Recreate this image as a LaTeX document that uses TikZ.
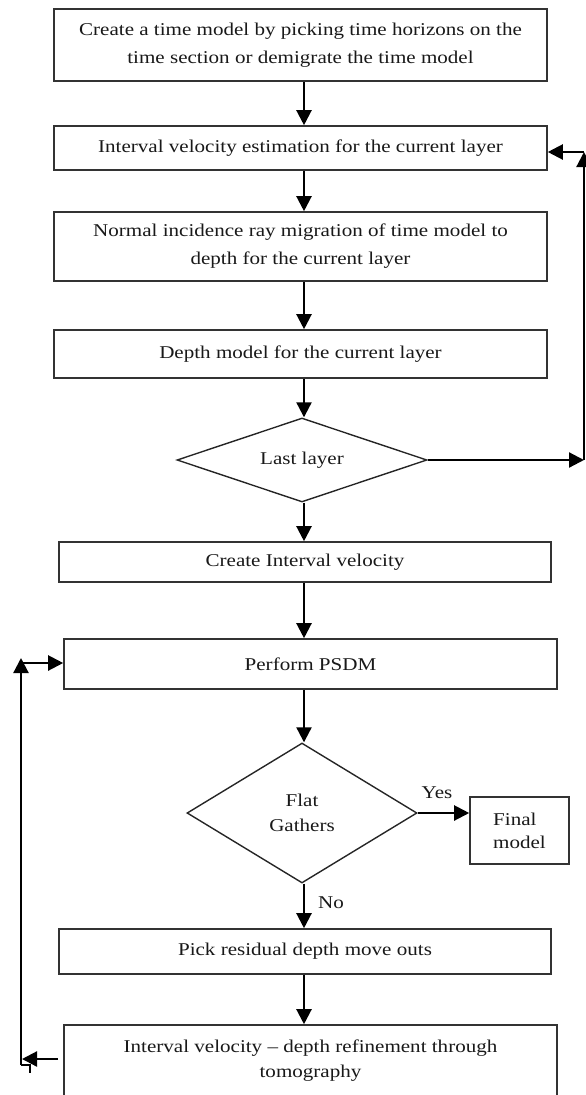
\documentclass[tikz,border=0pt]{standalone}
\usepackage{fontspec}
\setmainfont{Liberation Serif}[FakeStretch=1.17]
\usetikzlibrary{arrows.meta,shapes.geometric}
\begin{document}
\begin{tikzpicture}[x=1pt,y=-1pt,
  box/.style={draw=black!80, line width=1.6pt, fill=white, inner sep=0pt, align=center, text=black!90},
  dia/.style={diamond, draw=black!85, line width=1.4pt, inner sep=0pt, align=center, text=black!90},
  fsA/.style={font=\fontsize{18}{28}\selectfont},
  fsB/.style={font=\fontsize{18}{25}\selectfont},
  fsC/.style={font=\fontsize{18}{23}\selectfont},
  arr/.style={line width=2.2pt, draw=black, -{Triangle[length=15pt,width=15pt]}},
  lbl/.style={inner sep=0pt, text=black!90, font=\fontsize{18}{20}\selectfont}]
\useasboundingbox (0,0) rectangle (586,1095);
\clip (0,0) rectangle (586,1095);

\coordinate (ax) at (304,0);
\coordinate (rx) at (584,0);

\node[box, fsA, minimum width=493pt, minimum height=72pt] (b1) at (300.5,45)
  {Create a time model by picking time horizons on the\\time section or demigrate the time model};
\node[box, fsA, minimum width=493pt, minimum height=44pt] (b2) at (300.5,148)
  {Interval velocity estimation for the current layer};
\node[box, fsA, minimum width=493pt, minimum height=69pt] (b3) at (300.5,246.5)
  {Normal incidence ray migration of time model to\\depth for the current layer};
\node[box, fsA, minimum width=493pt, minimum height=48pt] (b4) at (300.5,354)
  {Depth model for the current layer};
\node[dia, fsA, aspect=3, minimum width=250pt, minimum height=84pt] (d1) at (302,460)
  {Last layer};
\node[box, fsA, minimum width=492pt, minimum height=40pt] (b5) at (305,562)
  {Create Interval velocity};
\node[box, fsA, minimum width=493pt, minimum height=50pt] (b6) at (310.5,664)
  {Perform PSDM};
\node[dia, fsB, aspect=1.64, minimum width=230pt, minimum height=140pt] (d2) at (302,813)
  {Flat\\Gathers};
\node[box, fsC, align=left, minimum width=99pt, minimum height=67pt] (fin) at (519.5,830.5)
  {Final\\model};
\node[box, fsA, minimum width=492pt, minimum height=45pt] (b7) at (305,951.5)
  {Pick residual depth move outs};
\node[box, fsB, minimum width=493pt, minimum height=72pt] (b8) at (310.5,1061)
  {Interval velocity -- depth refinement through\\tomography};

\node[lbl] (yes) at (437,793) {Yes};
\node[lbl] (no) at (331,903) {No};

% main flow
\draw[arr] (b1.south -| ax) -- (b2.north -| ax);
\draw[arr] (b2.south -| ax) -- (b3.north -| ax);
\draw[arr] (b3.south -| ax) -- (b4.north -| ax);
\draw[arr] (b4.south -| ax) -- (d1.north -| ax);
\draw[arr] (d1.south -| ax) -- (b5.north -| ax);
\draw[arr] (b5.south -| ax) -- (b6.north -| ax);
\draw[arr] (b6.south -| ax) -- (d2.north -| ax);
\draw[arr] (d2.south -| ax) -- (b7.north -| ax);
\draw[arr] (b7.south -| ax) -- (b8.north -| ax);
\draw[arr] (d2.east) -- (fin.west |- d2.east);

% right loop
\coordinate (r1) at (d1.east -| rx);
\coordinate (r2) at (584,152);
\draw[arr] (d1.east) -- (r1);
\draw[arr] (r1) -- (r2);
\draw[arr] (r2) -- (r2 -| b2.east);

% left loop
\coordinate (l0) at (58,1059);
\coordinate (l1) at (22,1059);
\coordinate (l2) at (21,1065);
\coordinate (l3) at (21,658);
\coordinate (l4) at (21,663);
\draw[arr] (l0) -- (l1);
\draw[arr] (l2) -- (l3);
\draw[arr] (l4) -- (l4 -| b6.west);
\draw[line width=1.5pt] (l2) -- (30,1065) -- (30,1073);
\end{tikzpicture}
\end{document}
